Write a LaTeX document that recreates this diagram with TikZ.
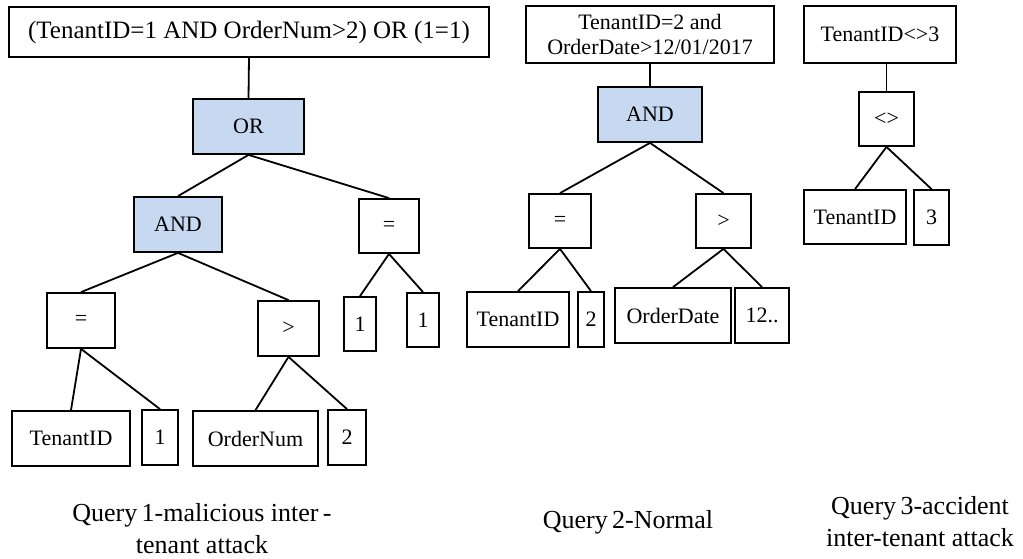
\documentclass[tikz,border=0pt]{standalone}
\usepackage{fontspec}
\setmainfont{Liberation Serif}
\definecolor{opfill}{HTML}{C6D9F1}
\begin{document}
\begin{tikzpicture}[x=1pt,y=-1pt,
  box/.style={draw=black,line width=1.8pt,fill=white,inner sep=0pt,align=center,
    font=\fontsize{22}{23}\selectfont},
  op/.style={box,fill=opfill},
  link/.style={line width=1.8pt},
  captxt/.style={align=center,font=\fontsize{26}{32}\selectfont}]
\useasboundingbox (0,0) rectangle (1023,559);
% Query 1
\node[box,minimum width=480pt,minimum height=50pt,font=\fontsize{25}{26}\selectfont] (t1) at (249,32) {(TenantID=1 AND OrderNum>2) OR (1=1)};
\node[op,minimum width=111pt,minimum height=55pt] (or) at (248.5,126.5) {OR};
\node[op,minimum width=88pt,minimum height=55pt] (and1) at (178,224.5) {AND};
\node[box,minimum width=60pt,minimum height=54pt] (eqr) at (389,226) {=};
\node[box,minimum width=68pt,minimum height=55pt] (eql) at (81,320.5) {=};
\node[box,minimum width=61pt,minimum height=55pt] (gt1) at (288.5,328.5) {>};
\node[box,minimum width=32pt,minimum height=54pt] (oa) at (360,324) {1};
\node[box,minimum width=32pt,minimum height=54pt] (ob) at (423,320) {1};
\node[box,minimum width=118pt,minimum height=55pt] (tid1) at (71,438.5) {TenantID};
\node[box,minimum width=36pt,minimum height=55pt] (oc) at (160,437.5) {1};
\node[box,minimum width=125pt,minimum height=55pt] (onum) at (255.5,438.5) {OrderNum};
\node[box,minimum width=38pt,minimum height=55pt] (twoa) at (347,437.5) {2};
\draw[link] (t1.south) -- (or.north);
\draw[link] (or.south) -- (and1.north);
\draw[link] (or.south) -- (eqr.north);
\draw[link] (and1.south) -- (eql.north);
\draw[link] (and1.south) -- (gt1.north);
\draw[link] (eqr.south) -- (oa.north);
\draw[link] (eqr.south) -- (ob.north);
\draw[link] (eql.south) -- (tid1.north);
\draw[link] (eql.south) -- (oc.north);
\draw[link] (gt1.south) -- (onum.north);
\draw[link] (gt1.south) -- (twoa.north);
\node[captxt] (c1) at (202,529) {Query\,1-malicious inter\,-\\tenant attack};
% Query 2
\node[box,minimum width=248pt,minimum height=57pt,font=\fontsize{22}{25}\selectfont] (t2) at (650,34.5) {TenantID=2 and\\OrderDate>12/01/2017};
\node[op,minimum width=104pt,minimum height=55pt] (and2) at (650,114.5) {AND};
\node[box,minimum width=62pt,minimum height=54pt] (eq2) at (560,221) {=};
\node[box,minimum width=55pt,minimum height=54pt] (gt2) at (723.5,221) {>};
\node[box,minimum width=102pt,minimum height=55pt] (tid2) at (518,319.5) {TenantID};
\node[box,minimum width=26pt,minimum height=55pt] (twob) at (591,319.5) {2};
\node[box,minimum width=116pt,minimum height=55pt] (odate) at (673,315.5) {OrderDate};
\node[box,minimum width=54pt,minimum height=55pt] (tw) at (762,315.5) {12..};
\draw[link] (t2.south) -- (and2.north);
\draw[link] (and2.south) -- (eq2.north);
\draw[link] (and2.south) -- (gt2.north);
\draw[link] (eq2.south) -- (tid2.north);
\draw[link] (eq2.south) -- (twob.north);
\draw[link] (gt2.south) -- (odate.north);
\draw[link] (gt2.south) -- (tw.north);
\node[captxt] (c2) at (628,522) {Query\,2-Normal};
% Query 3
\node[box,minimum width=152pt,minimum height=57pt] (t3) at (880,34.5) {TenantID<>3};
\node[box,minimum width=55pt,minimum height=54pt] (ne) at (886.5,119) {<>};
\node[box,minimum width=102pt,minimum height=54pt] (tid3) at (855,217) {TenantID};
\node[box,minimum width=35pt,minimum height=55pt] (three) at (931.5,217.5) {3};
\draw[link] (ne.north) -- (ne.north |- t3.south);
\draw[link] (ne.south) -- (tid3.north);
\draw[link] (ne.south) -- (three.north);
\node[captxt] (c3) at (920,522) {Query\,3-accident\\inter-tenant attack};
\end{tikzpicture}
\end{document}
